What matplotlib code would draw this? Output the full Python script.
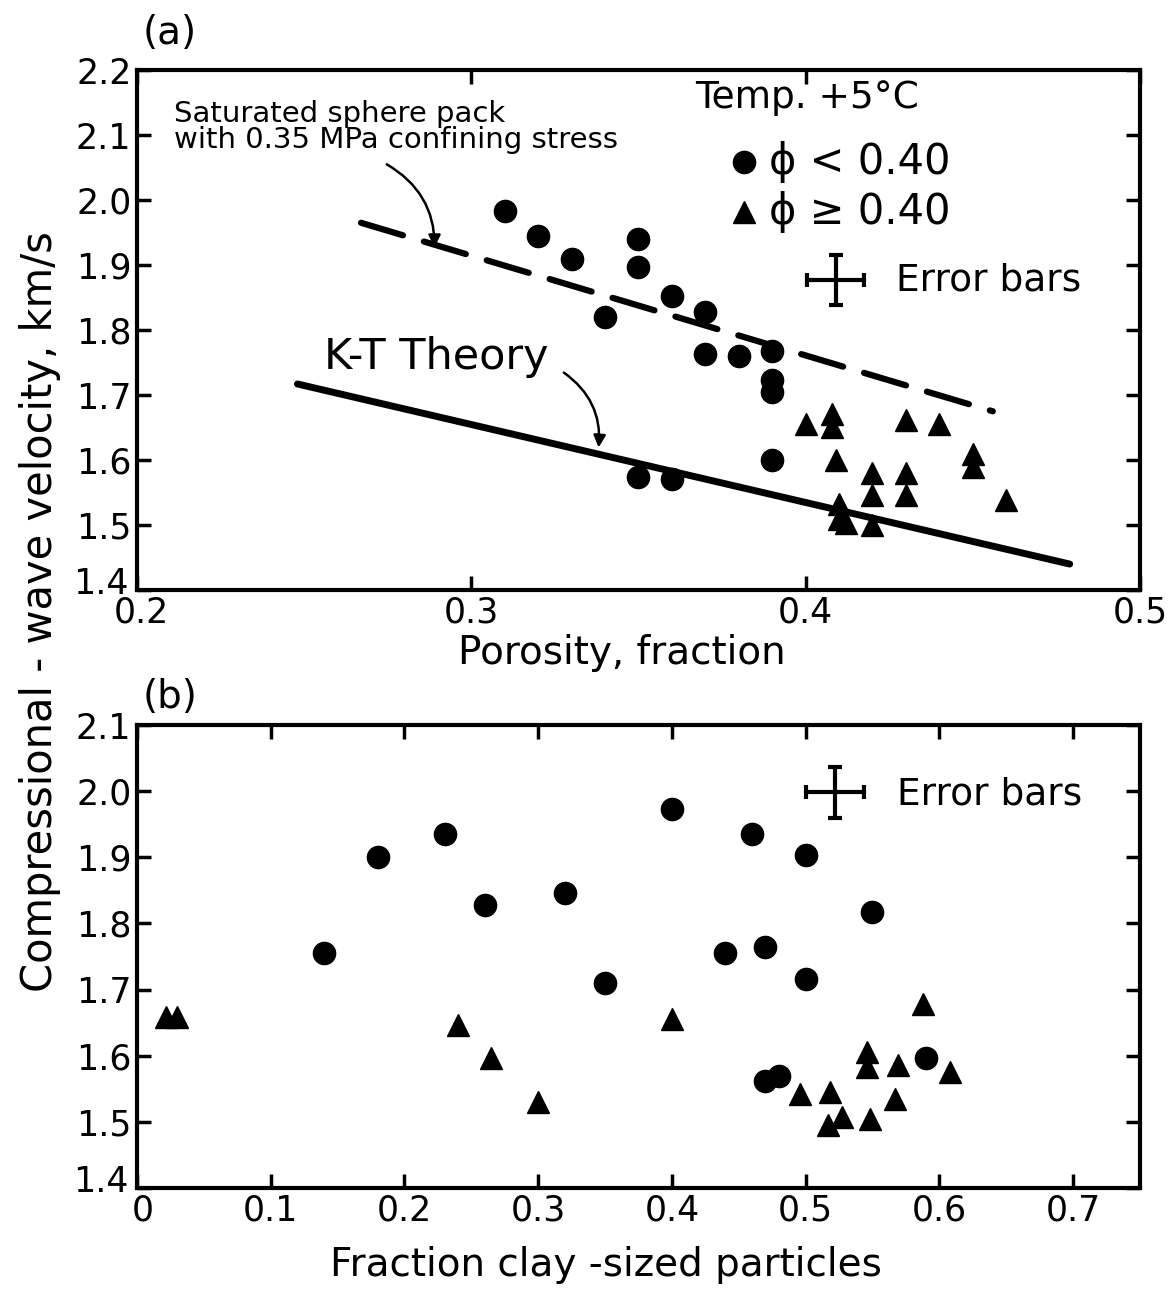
import matplotlib
matplotlib.use("Agg")
import matplotlib.pyplot as plt
from matplotlib.transforms import ScaledTranslation

plt.rcParams['font.family'] = ['DejaVu Sans']

# (a) velocity vs porosity
por_lo = [0.31, 0.32, 0.33, 0.34, 0.35, 0.35, 0.36, 0.37, 0.37, 0.38, 0.39, 0.39, 0.39, 0.39, 0.35, 0.36]
vel_lo = [1.983, 1.945, 1.91, 1.82, 1.94, 1.897, 1.852, 1.828, 1.763, 1.76, 1.767, 1.723, 1.705, 1.60, 1.574, 1.571]
por_hi = [0.40, 0.408, 0.408, 0.409, 0.41, 0.41, 0.42, 0.42, 0.42, 0.43, 0.43, 0.43, 0.44, 0.45, 0.45, 0.46, 0.412]
vel_hi = [1.655, 1.671, 1.651, 1.60, 1.532, 1.51, 1.58, 1.546, 1.50, 1.661, 1.58, 1.546, 1.655, 1.61, 1.589, 1.538, 1.503]

sat_phi = [0.267, 0.456]
sat_vel = [1.965, 1.675]
kt_phi = [0.248, 0.479]
kt_vel = [1.717, 1.44]

# (b) velocity vs clay fraction
clay_lo = [0.14, 0.18, 0.23, 0.26, 0.32, 0.35, 0.40, 0.44, 0.46, 0.47, 0.47, 0.48, 0.50, 0.50, 0.55, 0.59]
velb_lo = [1.756, 1.90, 1.936, 1.828, 1.846, 1.71, 1.973, 1.756, 1.935, 1.764, 1.562, 1.570, 1.903, 1.716, 1.818, 1.597]
clay_hi = [0.022, 0.03, 0.24, 0.265, 0.30, 0.40, 0.496, 0.518, 0.517, 0.527, 0.546, 0.546, 0.548, 0.567, 0.569, 0.588, 0.608]
velb_hi = [1.658, 1.658, 1.647, 1.597, 1.53, 1.655, 1.542, 1.545, 1.495, 1.508, 1.606, 1.583, 1.505, 1.535, 1.586, 1.678, 1.576]

yt_a = [1.4, 1.5, 1.6, 1.7, 1.8, 1.9, 2.0, 2.1, 2.2]
yt_b = [1.4, 1.5, 1.6, 1.7, 1.8, 1.9, 2.0, 2.1]
xt_a = [0.2, 0.3, 0.4, 0.5]
xt_b = [0, 0.1, 0.2, 0.3, 0.4, 0.5, 0.6, 0.7]
xl_b = ['0', '0.1', '0.2', '0.3', '0.4', '0.5', '0.6', '0.7']

fig = plt.figure(figsize=(11.73, 12.94), dpi=100)
ax1 = fig.add_axes([0.1168, 0.544, 0.855, 0.4019])
ax2 = fig.add_axes([0.1168, 0.0819, 0.855, 0.3578])

def style(ax):
    for s in ax.spines.values():
        s.set_linewidth(3)
    ax.tick_params(direction='in', length=10, width=2.5, top=True, right=True,
                   labelsize=25, pad=4)

def nudge(label, dx, dy):
    # move a tick label by dx, dy points
    label.set_transform(label.get_transform() + ScaledTranslation(dx / 72, dy / 72, fig.dpi_scale_trans))

mk = dict(ls='none', color='black', ms=16)

# panel a
ax1.plot(por_lo, vel_lo, marker='o', **mk)
ax1.plot(por_hi, vel_hi, marker='^', **mk)
ax1.plot(sat_phi, sat_vel, color='black', lw=4.5, dashes=(7, 3.5), solid_capstyle='round', dash_capstyle='round')
ax1.plot(kt_phi, kt_vel, color='black', lw=5, solid_capstyle='round')
ax1.set_xlim(0.2, 0.5)
ax1.set_ylim(1.4, 2.2)
ax1.set_xticks(xt_a)
ax1.set_yticks(yt_a)
ax1.set_xticklabels(['0.2', '0.3', '0.4', '0.5'])
ax1.set_yticklabels([f'{v:.1f}' for v in yt_a])
style(ax1)
ax1.set_xlabel('Porosity, fraction', fontsize=28, labelpad=6)
ax1.xaxis.set_label_coords(0.483, -0.085)
nudge(ax1.get_yticklabels()[0], -2, 7)
nudge(ax1.get_xticklabels()[0], 3, 0)

ax1.text(0.211, 2.112, 'Saturated sphere pack\nwith 0.35 MPa confining stress',
         fontsize=21, va='center', ha='left', linespacing=0.92)
ax1.annotate('', xy=(0.289, 1.923), xytext=(0.274, 2.057),
             arrowprops=dict(arrowstyle='-|>', lw=1.8, color='black',
                             connectionstyle='arc3,rad=-0.3', mutation_scale=18))
ax1.text(0.256, 1.758, 'K-T Theory', fontsize=31, va='center', ha='left')
ax1.annotate('', xy=(0.338, 1.615), xytext=(0.327, 1.737),
             arrowprops=dict(arrowstyle='-|>', lw=1.8, color='black',
                             connectionstyle='arc3,rad=-0.3', mutation_scale=18))

ax1.text(0.367, 2.157, 'Temp. +5°C', fontsize=27, va='center', ha='left')
ax1.plot([0.3816], [2.058], marker='o', **mk)
ax1.text(0.389, 2.058, 'ϕ < 0.40', fontsize=30, va='center', ha='left')
ax1.plot([0.3816], [1.981], marker='^', **mk)
ax1.text(0.389, 1.981, 'ϕ ≥ 0.40', fontsize=30, va='center', ha='left')
ax1.errorbar([0.409], [1.877], xerr=[0.0085], yerr=[0.038], color='black',
             lw=3, capsize=5, capthick=3)
ax1.text(0.427, 1.876, 'Error bars', fontsize=27, va='center', ha='left')
ax1.text(0.006, 1.035, '(a)', transform=ax1.transAxes, fontsize=28, va='bottom', ha='left')

# panel b
ax2.plot(clay_lo, velb_lo, marker='o', **mk)
ax2.plot(clay_hi, velb_hi, marker='^', **mk)
ax2.set_xlim(0, 0.75)
ax2.set_ylim(1.4, 2.1)
ax2.set_xticks(xt_b)
ax2.set_xticklabels(xl_b)
ax2.set_yticks(yt_b)
ax2.set_yticklabels([f'{v:.1f}' for v in yt_b])
style(ax2)
ax2.set_xlabel('Fraction clay -sized particles', fontsize=28, labelpad=8)
ax2.xaxis.set_label_coords(0.468, -0.125)
nudge(ax2.get_yticklabels()[0], -2, 7)
nudge(ax2.get_xticklabels()[0], 4, 0)
ax2.errorbar([0.522], [1.998], xerr=[0.022], yerr=[0.039], color='black',
             lw=3, capsize=5, capthick=3)
ax2.text(0.568, 1.995, 'Error bars', fontsize=27, va='center', ha='left')
ax2.text(0.006, 1.02, '(b)', transform=ax2.transAxes, fontsize=28, va='bottom', ha='left')

fig.text(0.034, 0.527, 'Compressional - wave velocity, km/s', rotation=90,
         fontsize=30, va='center', ha='center')

fig.savefig('out.png', dpi=100)
